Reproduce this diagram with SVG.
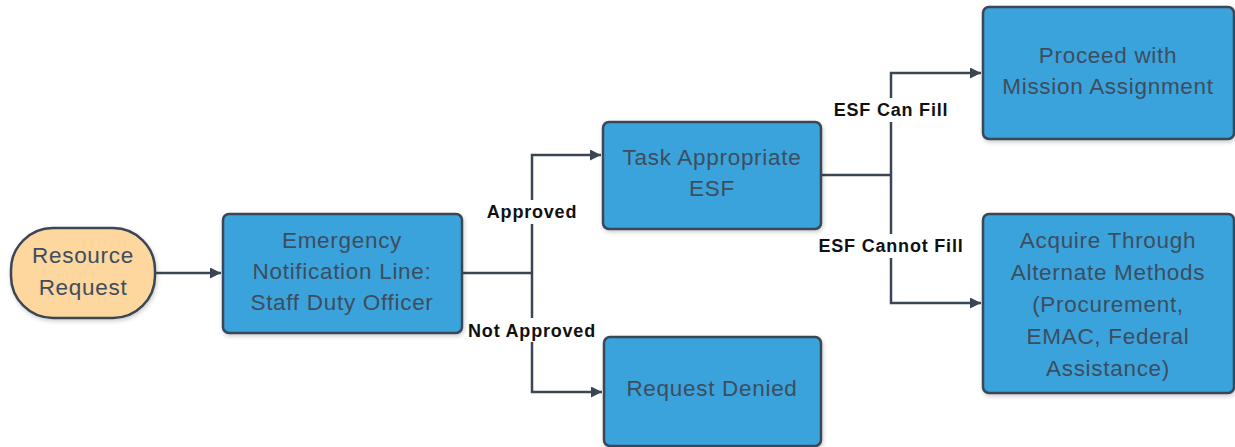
<svg xmlns="http://www.w3.org/2000/svg" width="1235" height="447" viewBox="0 0 1235 447">
<defs>
<marker id="arr" viewBox="0 0 10 10" refX="10" refY="5" markerWidth="11" markerHeight="11" markerUnits="userSpaceOnUse" orient="auto"><path d="M0,0 L10,5 L0,10 z" fill="#3b4654"/></marker>
<filter id="sh" x="-10%" y="-10%" width="130%" height="130%"><feDropShadow dx="1" dy="2" stdDeviation="2" flood-color="#000" flood-opacity="0.2"/></filter>
</defs>
<style>
.n{fill:#3aa3dc;stroke:#3b4654;stroke-width:2.5;filter:url(#sh)}
.s{fill:#fed79e;stroke:#3b4654;stroke-width:2.5;filter:url(#sh)}
.t{font-family:"Liberation Sans",Arial,sans-serif;font-size:22.5px;letter-spacing:0.7px;fill:#3d4d5e;text-anchor:middle}
.c{fill:none;stroke:#3b4654;stroke-width:2.5}
.l{font-family:"Liberation Sans",Arial,sans-serif;font-size:18px;letter-spacing:0.8px;font-weight:bold;fill:#111;text-anchor:middle}
.lb{fill:#fff}
</style>
<rect width="1235" height="447" fill="#fff"/>
<g id="connectors">
<path class="c" d="M155,273 H221" marker-end="url(#arr)"/>
<path class="c" d="M462,273 H532"/>
<path class="c" d="M532,273 V155 H601" marker-end="url(#arr)"/>
<path class="c" d="M532,273 V392 H602" marker-end="url(#arr)"/>
<path class="c" d="M821,175 H891"/>
<path class="c" d="M891,175 V73 H981" marker-end="url(#arr)"/>
<path class="c" d="M891,175 V303 H981" marker-end="url(#arr)"/>
<rect class="lb" x="482" y="200" width="100" height="24"/>
<text class="l" x="532" y="218">Approved</text>
<rect class="lb" x="462" y="318" width="142" height="24"/>
<text class="l" x="532" y="337">Not Approved</text>
<rect class="lb" x="828" y="98" width="126" height="24"/>
<text class="l" x="891" y="116">ESF Can Fill</text>
<rect class="lb" x="814" y="234" width="156" height="24"/>
<text class="l" x="891" y="252">ESF Cannot Fill</text>
</g>
<g id="resource-request">
<rect class="s" x="11" y="228" width="144" height="90" rx="42"/>
<text class="t" x="83" y="263">Resource</text>
<text class="t" x="83" y="295">Request</text>
</g>
<g id="emergency-notification">
<rect class="n" x="223" y="214" width="239" height="119" rx="6"/>
<text class="t" x="342" y="248">Emergency</text>
<text class="t" x="342" y="279">Notification Line:</text>
<text class="t" x="342" y="310">Staff Duty Officer</text>
</g>
<g id="task-esf">
<rect class="n" x="603" y="122" width="218" height="107" rx="6"/>
<text class="t" x="712" y="165">Task Appropriate</text>
<text class="t" x="712" y="196">ESF</text>
</g>
<g id="request-denied">
<rect class="n" x="604" y="337" width="217" height="109" rx="6"/>
<text class="t" x="712" y="396">Request Denied</text>
</g>
<g id="proceed">
<rect class="n" x="983" y="7" width="251" height="132" rx="6"/>
<text class="t" x="1108" y="63">Proceed with</text>
<text class="t" x="1108" y="94">Mission Assignment</text>
</g>
<g id="acquire">
<rect class="n" x="983" y="214" width="251" height="179" rx="6"/>
<text class="t" x="1108" y="248">Acquire Through</text>
<text class="t" x="1108" y="280">Alternate Methods</text>
<text class="t" x="1108" y="312">(Procurement,</text>
<text class="t" x="1108" y="344">EMAC, Federal</text>
<text class="t" x="1108" y="376">Assistance)</text>
</g>
</svg>
